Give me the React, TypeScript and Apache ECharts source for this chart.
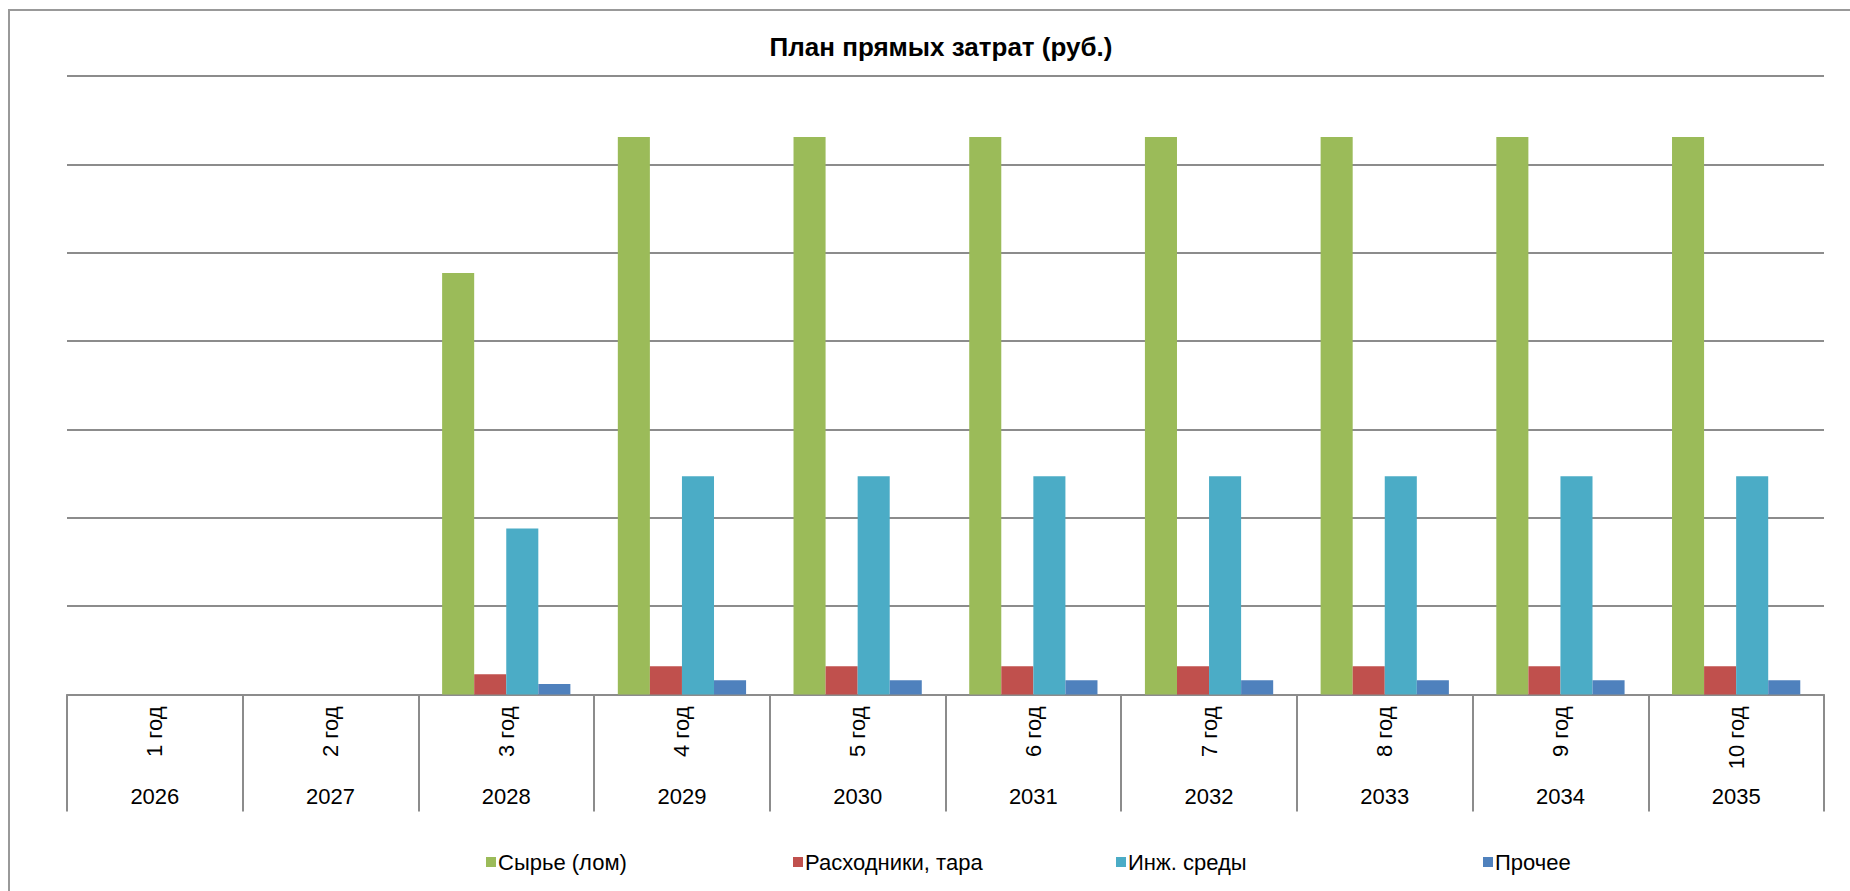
import React, { useEffect, useRef } from "react";
import * as echarts from "echarts";

const yearsNo = ["1 год", "2 год", "3 год", "4 год", "5 год", "6 год", "7 год", "8 год", "9 год", "10 год"];
const years = ["2026", "2027", "2028", "2029", "2030", "2031", "2032", "2033", "2034", "2035"];
const seriesNames = ["Сырье (лом)", "Расходники, тара", "Инж. среды", "Прочее"];
const seriesColors = ["#9BBB59", "#C0504D", "#4BACC6", "#4F81BD"];
const rawMaterial = [0, 0, 4.77, 6.31, 6.31, 6.31, 6.31, 6.31, 6.31, 6.31];
const consumables = [0, 0, 0.23, 0.32, 0.32, 0.32, 0.32, 0.32, 0.32, 0.32];
const utilities = [0, 0, 1.88, 2.47, 2.47, 2.47, 2.47, 2.47, 2.47, 2.47];
const other = [0, 0, 0.12, 0.16, 0.16, 0.16, 0.16, 0.16, 0.16, 0.16];
const legendLefts = [481, 788, 1111, 1478];

const FONT = "'Liberation Sans', Arial, sans-serif";
const GRID_COLOR = "#8c8c8c";

export default function App() {
  const ref = useRef<HTMLDivElement>(null);
  useEffect(() => {
    if (!ref.current) return;
    const chart = echarts.init(ref.current, undefined, { renderer: "svg" });
    const values = [rawMaterial, consumables, utilities, other];
    chart.setOption({
      animation: false,
      backgroundColor: "#ffffff",
      title: {
        text: "План прямых затрат (руб.)",
        left: 936,
        top: 29,
        textAlign: "center",
        textStyle: { fontFamily: FONT, fontSize: 26, fontWeight: "bold", color: "#000" },
      },
      graphic: [
        {
          type: "rect",
          shape: { x: 9, y: 10, width: 2000, height: 1000 },
          style: { fill: "none", stroke: "#999999", lineWidth: 2 },
          silent: true,
        },
      ],
      legend: seriesNames.map((n, i) => ({
        data: [n],
        left: legendLefts[i],
        top: 846,
        itemWidth: 10,
        itemHeight: 10,
        itemGap: 4,
        icon: "rect",
        textStyle: { fontFamily: FONT, fontSize: 22, color: "#000", padding: [0, 0, 0, -3] },
      })),
      grid: { left: 67, top: 76, width: 1757, height: 618.5, containLabel: false },
      xAxis: [
        {
          type: "category",
          position: "bottom",
          data: yearsNo,
          axisLine: { show: true, lineStyle: { color: GRID_COLOR, width: 2 } },
          axisTick: { show: true, length: 117, interval: 0, lineStyle: { color: GRID_COLOR, width: 2 } },
          axisLabel: { rotate: 90, margin: 12, interval: 0, fontFamily: FONT, fontSize: 22, color: "#000" },
        },
        {
          type: "category",
          position: "bottom",
          offset: 0,
          data: years,
          axisLine: { show: false },
          axisTick: { show: false },
          axisLabel: { margin: 91, interval: 0, fontFamily: FONT, fontSize: 22, color: "#000" },
        },
      ],
      yAxis: {
        type: "value",
        min: 0,
        max: 7,
        interval: 1,
        axisLine: { show: false },
        axisTick: { show: false },
        axisLabel: { show: false },
        splitLine: { show: true, lineStyle: { color: GRID_COLOR, width: 2 } },
      },
      series: seriesNames.map((n, i) => ({
        name: n,
        type: "bar",
        xAxisIndex: 0,
        data: values[i],
        barGap: "0%",
        barCategoryGap: "27%",
        itemStyle: { color: seriesColors[i] },
      })),
    });
    return () => chart.dispose();
  }, []);
  return (
    <div
      ref={ref}
      style={{ position: "fixed", left: 0, top: 0, width: 1850, height: 891 }}
    />
  );
}
